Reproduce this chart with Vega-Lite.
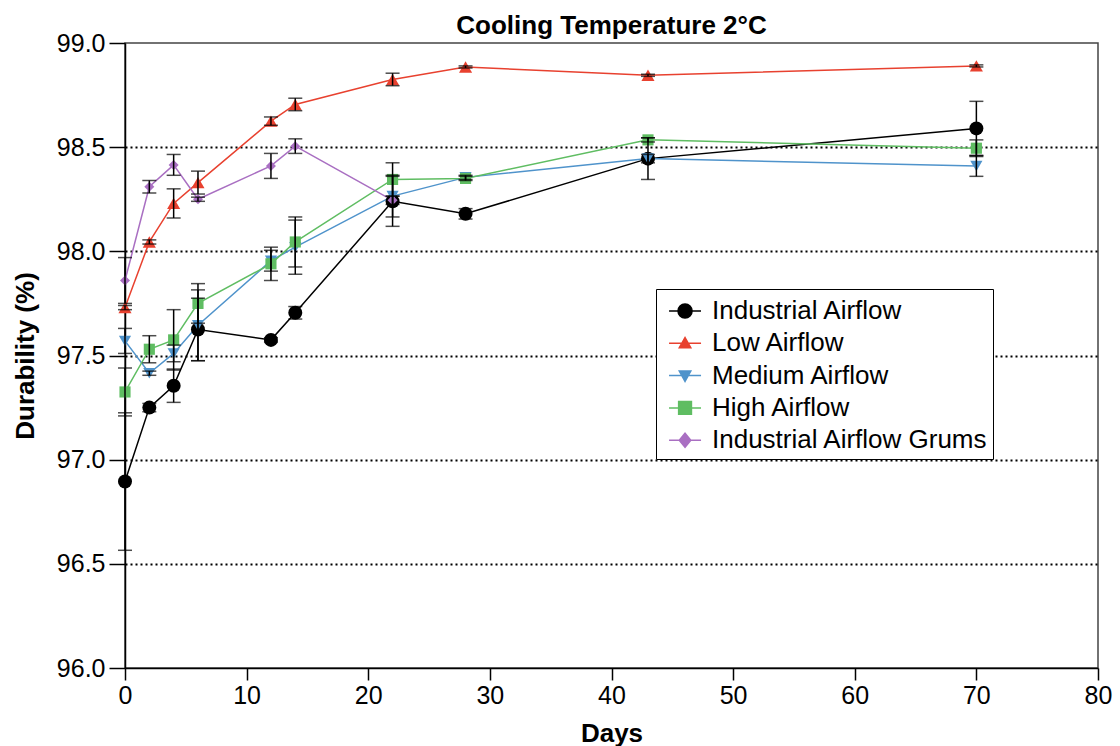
{
  "$schema": "https://vega.github.io/schema/vega-lite/v6.json",
  "width": 973,
  "height": 625,
  "autosize": {"type": "none"},
  "padding": {"left": 125, "top": 43, "right": 22, "bottom": 78},
  "background": "white",
  "config": {
    "font": "Liberation Sans, Arial, sans-serif",
    "view": {"stroke": "#444444", "strokeWidth": 1.5},
    "axis": {"labelColor": "black", "titleColor": "black", "domainColor": "black", "tickColor": "black", "domainWidth": 1.5, "tickWidth": 1.5}
  },
  "title": {"text": "Cooling Temperature 2°C", "fontSize": 26, "fontWeight": "bold", "color": "black", "offset": -8, "anchor": "middle"},
  "data": {
    "values": [
      {"day": 0, "series": "Industrial Airflow", "value": 96.895, "err": 0.33},
      {"day": 2, "series": "Industrial Airflow", "value": 97.25, "err": 0.02},
      {"day": 4, "series": "Industrial Airflow", "value": 97.355, "err": 0.08},
      {"day": 6, "series": "Industrial Airflow", "value": 97.625, "err": 0.15},
      {"day": 12, "series": "Industrial Airflow", "value": 97.575, "err": 0.01},
      {"day": 14, "series": "Industrial Airflow", "value": 97.705, "err": 0.03},
      {"day": 22, "series": "Industrial Airflow", "value": 98.24, "err": 0.12},
      {"day": 28, "series": "Industrial Airflow", "value": 98.18, "err": 0.025},
      {"day": 43, "series": "Industrial Airflow", "value": 98.445, "err": 0.1},
      {"day": 70, "series": "Industrial Airflow", "value": 98.59, "err": 0.13},
      {"day": 0, "series": "Low Airflow", "value": 97.73, "err": 0.01},
      {"day": 2, "series": "Low Airflow", "value": 98.045, "err": 0.01},
      {"day": 4, "series": "Low Airflow", "value": 98.23, "err": 0.07},
      {"day": 6, "series": "Low Airflow", "value": 98.33, "err": 0.055},
      {"day": 12, "series": "Low Airflow", "value": 98.625, "err": 0.02},
      {"day": 14, "series": "Low Airflow", "value": 98.705, "err": 0.03},
      {"day": 22, "series": "Low Airflow", "value": 98.825, "err": 0.03},
      {"day": 28, "series": "Low Airflow", "value": 98.885, "err": 0.005},
      {"day": 43, "series": "Low Airflow", "value": 98.845, "err": 0.005},
      {"day": 70, "series": "Low Airflow", "value": 98.89, "err": 0.005},
      {"day": 0, "series": "Medium Airflow", "value": 97.57, "err": 0.06},
      {"day": 2, "series": "Medium Airflow", "value": 97.415, "err": 0.01},
      {"day": 4, "series": "Medium Airflow", "value": 97.51, "err": 0.04},
      {"day": 6, "series": "Medium Airflow", "value": 97.645, "err": 0.17},
      {"day": 12, "series": "Medium Airflow", "value": 97.955, "err": 0.05},
      {"day": 14, "series": "Medium Airflow", "value": 98.02, "err": 0.13},
      {"day": 22, "series": "Medium Airflow", "value": 98.265, "err": 0.1},
      {"day": 28, "series": "Medium Airflow", "value": 98.355, "err": 0.01},
      {"day": 43, "series": "Medium Airflow", "value": 98.445, "err": 0.02},
      {"day": 70, "series": "Medium Airflow", "value": 98.41, "err": 0.05},
      {"day": 0, "series": "High Airflow", "value": 97.325, "err": 0.115},
      {"day": 2, "series": "High Airflow", "value": 97.53, "err": 0.065},
      {"day": 4, "series": "High Airflow", "value": 97.575, "err": 0.145},
      {"day": 6, "series": "High Airflow", "value": 97.75, "err": 0.095},
      {"day": 12, "series": "High Airflow", "value": 97.94, "err": 0.08},
      {"day": 14, "series": "High Airflow", "value": 98.045, "err": 0.12},
      {"day": 22, "series": "High Airflow", "value": 98.345, "err": 0.08},
      {"day": 28, "series": "High Airflow", "value": 98.35, "err": 0.01},
      {"day": 43, "series": "High Airflow", "value": 98.535, "err": 0.01},
      {"day": 70, "series": "High Airflow", "value": 98.495, "err": 0.04},
      {"day": 0, "series": "Industrial Airflow Grums", "value": 97.86, "err": 0.11},
      {"day": 2, "series": "Industrial Airflow Grums", "value": 98.31, "err": 0.03},
      {"day": 4, "series": "Industrial Airflow Grums", "value": 98.415, "err": 0.05},
      {"day": 6, "series": "Industrial Airflow Grums", "value": 98.25, "err": 0.01},
      {"day": 12, "series": "Industrial Airflow Grums", "value": 98.41, "err": 0.06},
      {"day": 14, "series": "Industrial Airflow Grums", "value": 98.505, "err": 0.035},
      {"day": 22, "series": "Industrial Airflow Grums", "value": 98.245, "err": 0.02}
    ]
  },
  "encoding": {
    "x": {
      "field": "day", "type": "quantitative",
      "scale": {"domain": [0, 80], "nice": false, "zero": false},
      "axis": {"title": "Days", "values": [0, 10, 20, 30, 40, 50, 60, 70, 80], "grid": false, "labelFontSize": 25, "titleFontSize": 26, "titleFontWeight": "bold", "tickSize": 12, "labelPadding": 3, "titlePadding": 12, "labelFlush": false}
    },
    "y": {
      "field": "value", "type": "quantitative",
      "scale": {"domain": [96, 99], "nice": false, "zero": false},
      "axis": {"title": "Durability (%)", "values": [96, 96.5, 97, 97.5, 98, 98.5, 99], "format": ".1f", "labelFontSize": 25, "titleFontSize": 26, "titleFontWeight": "bold", "tickSize": 16, "labelPadding": 4, "titlePadding": 18, "labelFlush": false,
        "grid": true, "gridColor": "black", "gridWidth": 2.2, "gridDash": [2, 3],
        "gridOpacity": {"condition": {"test": "datum.value <= 96 || datum.value >= 99", "value": 0}, "value": 1}}
    }
  },
  "layer": [
    {
      "mark": {"type": "line", "strokeWidth": 1.5},
      "encoding": {
        "color": {"field": "series", "type": "nominal", "legend": null,
          "scale": {"domain": ["Industrial Airflow", "Low Airflow", "Medium Airflow", "High Airflow", "Industrial Airflow Grums"], "range": ["#000000", "#e8412f", "#4f93cb", "#5fbd62", "#a96fc2"]}}
      }
    },
    {
      "mark": {"type": "point", "filled": true, "opacity": 1},
      "encoding": {
        "color": {"field": "series", "type": "nominal", "legend": null,
          "scale": {"domain": ["Industrial Airflow", "Low Airflow", "Medium Airflow", "High Airflow", "Industrial Airflow Grums"], "range": ["#000000", "#e8412f", "#4f93cb", "#5fbd62", "#a96fc2"]}},
        "shape": {"field": "series", "type": "nominal", "legend": null,
          "scale": {"domain": ["Industrial Airflow", "Low Airflow", "Medium Airflow", "High Airflow", "Industrial Airflow Grums"], "range": ["circle", "triangle-up", "triangle-down", "square", "diamond"]}},
        "size": {"field": "series", "type": "nominal", "legend": null,
          "scale": {"domain": ["Industrial Airflow", "Low Airflow", "Medium Airflow", "High Airflow", "Industrial Airflow Grums"], "range": [196, 100, 130, 180, 150]}}
      }
    },
    {
      "transform": [{"filter": "datum.err > 0"}],
      "mark": {"type": "errorbar", "ticks": {"size": 14, "color": "black", "thickness": 1.5}, "rule": {"color": "black", "strokeWidth": 1.5}},
      "encoding": {
        "yError": {"field": "err"}
      }
    },
    {
      "transform": [{"filter": "false"}],
      "mark": {"type": "point", "filled": true, "opacity": 1, "strokeWidth": 1.5},
      "encoding": {
        "color": {"field": "series", "type": "nominal",
          "scale": {"domain": ["Industrial Airflow", "Low Airflow", "Medium Airflow", "High Airflow", "Industrial Airflow Grums"], "range": ["#000000", "#e8412f", "#4f93cb", "#5fbd62", "#a96fc2"]},
          "legend": {"title": "\u00a0\u00a0\u00a0\u00a0\u00a0\u00a0\u00a0", "titleOrient": "right", "titleFontSize": 26, "titlePadding": 0, "orient": "none", "legendX": 531, "legendY": 246, "padding": 5, "strokeColor": "black", "fillColor": "white", "symbolSize": 1024, "symbolStrokeWidth": 1.5, "labelFontSize": 26, "labelColor": "black", "labelOffset": 17, "rowPadding": 2.3, "labelLimit": 500}},
        "stroke": {"field": "series", "type": "nominal",
          "scale": {"domain": ["Industrial Airflow", "Low Airflow", "Medium Airflow", "High Airflow", "Industrial Airflow Grums"], "range": ["#000000", "#e8412f", "#4f93cb", "#5fbd62", "#a96fc2"]}},
        "shape": {"field": "series", "type": "nominal",
          "scale": {"domain": ["Industrial Airflow", "Low Airflow", "Medium Airflow", "High Airflow", "Industrial Airflow Grums"], "range": [
            "M-0.56,0H1.44M0,0A0.44,0.44 0 1,0 0.88,0A0.44,0.44 0 1,0 0,0Z",
            "M-0.56,0H1.44M0.44,-0.36L0.8,0.28L0.08,0.28Z",
            "M-0.56,0H1.44M0.44,0.36L0.8,-0.28L0.08,-0.28Z",
            "M-0.56,0H1.44M0.04,-0.4H0.84V0.4H0.04Z",
            "M-0.56,0H1.44M0.44,-0.44L0.8,0L0.44,0.44L0.08,0Z"
          ]}}
      }
    }
  ],
  "resolve": {"scale": {"color": "independent", "shape": "independent", "size": "independent", "stroke": "independent"}}
}
